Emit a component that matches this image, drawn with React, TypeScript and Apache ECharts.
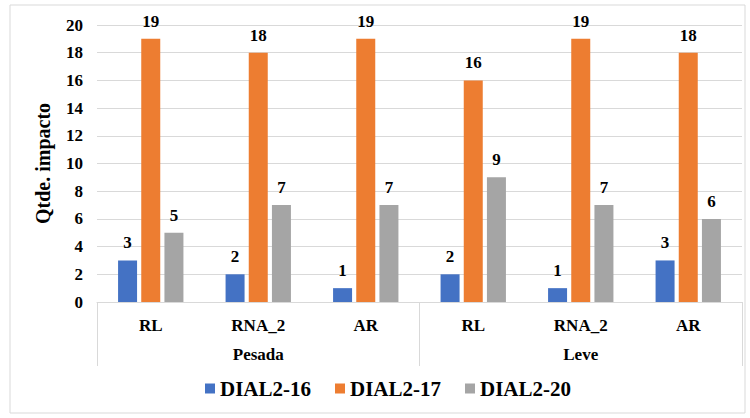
import React, { useEffect, useRef } from "react";
import * as echarts from "echarts";

const categories = ["RL", "RNA_2", "AR", "RL", "RNA_2", "AR"];
const groups = ["Pesada", "Leve"];
const seriesNames = ["DIAL2-16", "DIAL2-17", "DIAL2-20"];
const dial16 = [3, 2, 1, 2, 1, 3];
const dial17 = [19, 18, 19, 16, 19, 18];
const dial20 = [5, 7, 7, 9, 7, 6];
const colors = ["#4472C4", "#ED7D31", "#A5A5A5"];

const FONT = "Liberation Serif";

export default function App() {
  const ref = useRef<HTMLDivElement>(null);
  useEffect(() => {
    document.body.style.margin = "0";
    if (!ref.current) return;
    const chart = echarts.init(ref.current, null, { renderer: "svg" });
    const values = [dial16, dial17, dial20];
    const txt = (size: number) => ({
      fontFamily: FONT,
      fontSize: size,
      fontWeight: "bold" as const,
      color: "#000",
    });
    chart.setOption({
      animation: false,
      textStyle: { fontFamily: FONT },
      graphic: [
        {
          type: "rect",
          shape: { x: 10, y: 5, width: 735, height: 408 },
          style: { fill: "none", stroke: "#d9d9d9", lineWidth: 1 },
          silent: true,
        },
      ],
      grid: { left: 97, right: 8, top: 25, bottom: 116, containLabel: false },
      legend: {
        bottom: 14,
        left: 200,
        itemWidth: 10,
        itemHeight: 10,
        itemGap: 24,
        icon: "rect",
        textStyle: txt(21),
        data: seriesNames,
      },
      xAxis: [
        {
          type: "category",
          data: categories,
          position: "bottom",
          axisLine: { lineStyle: { color: "#d9d9d9", width: 1 } },
          axisTick: { show: false },
          axisLabel: { margin: 15, ...txt(17) },
        },
        {
          type: "category",
          data: groups,
          position: "bottom",
          axisLine: { show: false },
          axisTick: {
            show: true,
            length: 64,
            inside: false,
            interval: 0,
            lineStyle: { color: "#d9d9d9", width: 1 },
          },
          axisLabel: { margin: 44, ...txt(17) },
          splitLine: { show: false },
        },
      ],
      yAxis: {
        type: "value",
        min: 0,
        max: 20,
        interval: 2,
        name: "Qtde. impacto",
        nameLocation: "middle",
        nameGap: 44,
        nameTextStyle: txt(20),
        axisLine: { show: false },
        axisTick: { show: false },
        axisLabel: { margin: 14, ...txt(17) },
        splitLine: { lineStyle: { color: "#d9d9d9", width: 1 } },
      },
      series: seriesNames.map((name, i) => ({
        name,
        type: "bar",
        xAxisIndex: 0,
        data: values[i],
        barWidth: 19,
        barGap: "22%",
        itemStyle: { color: colors[i] },
        label: { show: true, position: "top", distance: 9, ...txt(17) },
      })),
    });
    return () => chart.dispose();
  }, []);
  return <div ref={ref} style={{ width: 750, height: 418 }} />;
}
